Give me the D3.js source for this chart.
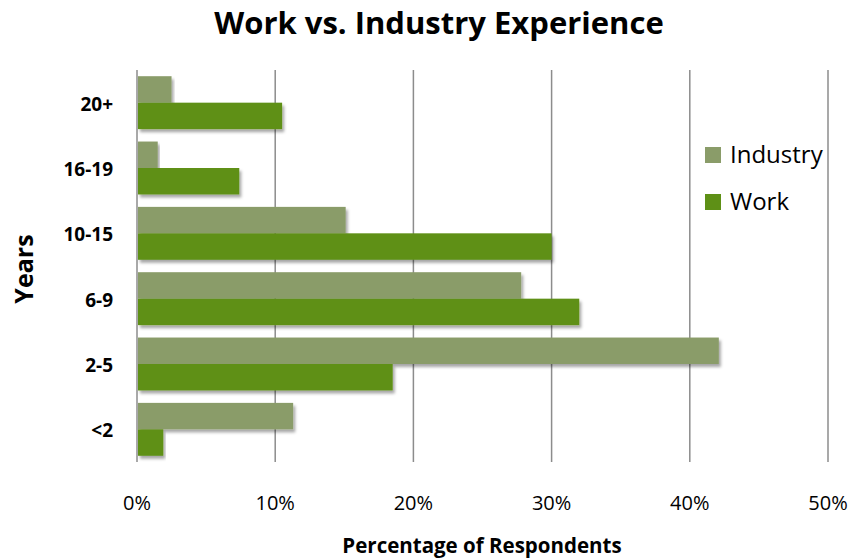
<!DOCTYPE html>
<html>
<head>
<meta charset="utf-8">
<script src="https://cdn.jsdelivr.net/npm/d3@7"></script>
<style>
  html, body { margin: 0; padding: 0; background: #fff; }
  svg { display: block; font-family: "Open Sans", Lato, sans-serif; }
</style>
</head>
<body>
<svg id="chart" width="853" height="558"></svg>
<script>
// Years of experience, top to bottom
const categories = ["20+", "16-19", "10-15", "6-9", "2-5", "<2"];
// Share of respondents (%)
const industry = [2.5, 1.5, 15.1, 27.8, 42.1, 11.3];
const work = [10.5, 7.4, 30.0, 32.0, 18.5, 1.9];
const seriesNames = ["Industry", "Work"];
const seriesColors = ["#8a9c69", "#5e9016"];
const xTicks = [0, 10, 20, 30, 40, 50];

const svg = d3.select("#chart");
const plotLeft = 137, plotRight = 828, plotTop = 70, plotBottom = 462;

const x = d3.scaleLinear().domain([0, 50]).range([plotLeft, plotRight]);
const y = d3.scaleBand().domain(categories).range([plotTop, plotBottom])
  .paddingInner(0.19).paddingOuter(0.095);
const ySub = d3.scaleBand().domain(seriesNames).range([0, y.bandwidth()]);

// soft drop shadow under bars
const defs = svg.append("defs");
const f = defs.append("filter").attr("id", "shadow")
  .attr("x", "-5%").attr("y", "-20%").attr("width", "115%").attr("height", "160%");
f.append("feDropShadow").attr("dx", 2).attr("dy", 3).attr("stdDeviation", 1.8)
  .attr("flood-color", "#000").attr("flood-opacity", 0.35);

// vertical gridlines
svg.append("g").selectAll("line").data(xTicks).join("line")
  .attr("x1", d => x(d)).attr("x2", d => x(d))
  .attr("y1", plotTop).attr("y2", plotBottom)
  .attr("stroke", "#8c8c8c").attr("stroke-width", 1.5);

// bars
const rows = categories.map((c, i) => ({ cat: c, vals: [industry[i], work[i]] }));
const g = svg.append("g");
rows.forEach(r => {
  r.vals.forEach((v, j) => {
    g.append("rect")
      .attr("x", x(0) + 1)
      .attr("y", y(r.cat) + ySub(seriesNames[j]))
      .attr("width", x(v) - x(0) - 1)
      .attr("height", ySub.bandwidth())
      .attr("fill", seriesColors[j])
      .attr("filter", "url(#shadow)");
  });
});

// category labels
svg.append("g").selectAll("text").data(categories).join("text")
  .attr("x", 113).attr("y", d => y(d) + y.bandwidth() / 2 + 8)
  .attr("text-anchor", "end")
  .attr("font-size", 19).attr("font-weight", "bold").attr("fill", "#000")
  .text(d => d);

// x tick labels
svg.append("g").selectAll("text").data(xTicks).join("text")
  .attr("x", d => x(d)).attr("y", 510)
  .attr("text-anchor", "middle")
  .attr("font-size", 20).attr("fill", "#000")
  .text(d => d + "%");

// axis titles
svg.append("text").attr("x", 482).attr("y", 553)
  .attr("text-anchor", "middle").attr("font-size", 20.5).attr("font-weight", "bold")
  .text("Percentage of Respondents");
svg.append("text").attr("transform", "translate(33,269) rotate(-90)")
  .attr("text-anchor", "middle")
  .attr("font-size", 25).attr("font-weight", "bold")
  .text("Years");

// chart title
svg.append("text").attr("x", 439).attr("y", 34)
  .attr("text-anchor", "middle").attr("font-size", 31).attr("font-weight", "bold")
  .text("Work vs. Industry Experience");

// legend
const lg = svg.append("g").selectAll("g").data(seriesNames).join("g")
  .attr("transform", (d, i) => `translate(705,${147 + i * 47})`);
lg.append("rect").attr("width", 16).attr("height", 16)
  .attr("fill", (d, i) => seriesColors[i]);
lg.append("text").attr("x", 25).attr("y", 16)
  .attr("font-size", 24).attr("fill", "#000").text(d => d);
</script>
</body>
</html>
